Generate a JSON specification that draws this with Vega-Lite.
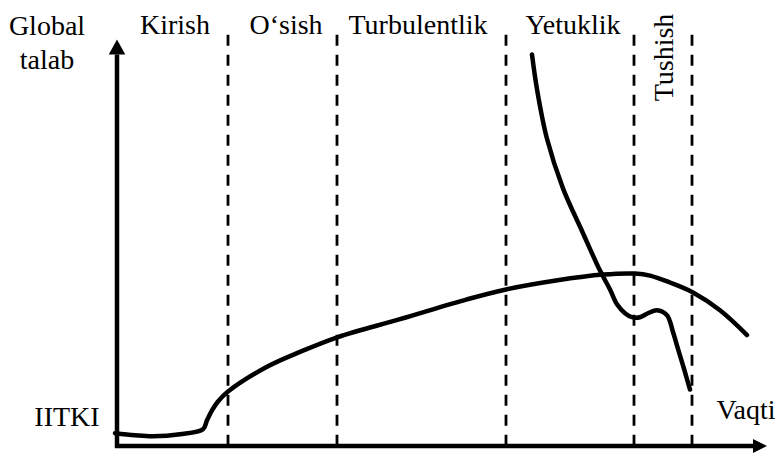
{
  "$schema": "https://vega.github.io/schema/vega-lite/v6.json",
  "width": 782,
  "height": 457,
  "autosize": {"type": "fit", "contains": "padding"},
  "padding": 0,
  "background": "white",
  "config": {"view": {"stroke": null}},
  "datasets": {
    "curves": [
      {"series": "talab", "t": 115, "v": 20},
      {"series": "talab", "t": 135, "v": 18},
      {"series": "talab", "t": 153, "v": 17},
      {"series": "talab", "t": 180, "v": 19},
      {"series": "talab", "t": 203, "v": 24},
      {"series": "talab", "t": 207, "v": 33},
      {"series": "talab", "t": 212, "v": 43},
      {"series": "talab", "t": 218, "v": 52},
      {"series": "talab", "t": 228, "v": 62},
      {"series": "talab", "t": 267, "v": 87},
      {"series": "talab", "t": 300, "v": 102},
      {"series": "talab", "t": 338, "v": 117},
      {"series": "talab", "t": 400, "v": 135},
      {"series": "talab", "t": 467, "v": 155},
      {"series": "talab", "t": 506, "v": 165},
      {"series": "talab", "t": 556, "v": 174},
      {"series": "talab", "t": 603, "v": 180},
      {"series": "talab", "t": 635, "v": 181},
      {"series": "talab", "t": 650, "v": 179},
      {"series": "talab", "t": 670, "v": 172},
      {"series": "talab", "t": 693, "v": 162},
      {"series": "talab", "t": 720, "v": 144},
      {"series": "talab", "t": 747, "v": 119},
      {"series": "yetuklik", "t": 532, "v": 402},
      {"series": "yetuklik", "t": 537, "v": 367},
      {"series": "yetuklik", "t": 547, "v": 317},
      {"series": "yetuklik", "t": 563, "v": 267},
      {"series": "yetuklik", "t": 582, "v": 224},
      {"series": "yetuklik", "t": 600, "v": 184},
      {"series": "yetuklik", "t": 610, "v": 165},
      {"series": "yetuklik", "t": 617, "v": 150},
      {"series": "yetuklik", "t": 625, "v": 141},
      {"series": "yetuklik", "t": 632, "v": 137},
      {"series": "yetuklik", "t": 640, "v": 137},
      {"series": "yetuklik", "t": 648, "v": 141},
      {"series": "yetuklik", "t": 657, "v": 144},
      {"series": "yetuklik", "t": 667, "v": 139},
      {"series": "yetuklik", "t": 673, "v": 122},
      {"series": "yetuklik", "t": 678, "v": 105},
      {"series": "yetuklik", "t": 684, "v": 85},
      {"series": "yetuklik", "t": 690, "v": 64}
    ],
    "axes": [
      {"axis": "y", "t": 117, "v": 5},
      {"axis": "y", "t": 117, "v": 402},
      {"axis": "x", "t": 115, "v": 7},
      {"axis": "x", "t": 755, "v": 7}
    ],
    "dividers": [
      {"t": 228, "top": 422, "bottom": 7},
      {"t": 337, "top": 422, "bottom": 7},
      {"t": 506, "top": 422, "bottom": 7},
      {"t": 634, "top": 422, "bottom": 7},
      {"t": 692, "top": 422, "bottom": 7}
    ],
    "labels": [
      {"label": "Global", "t": 47, "v": 422},
      {"label": "talab", "t": 47, "v": 387},
      {"label": "Kirish", "t": 175, "v": 423},
      {"label": "O‘sish", "t": 286, "v": 423},
      {"label": "Turbulentlik", "t": 418, "v": 423},
      {"label": "Yetuklik", "t": 573, "v": 423},
      {"label": "IITKI", "t": 67, "v": 27},
      {"label": "Vaqti", "t": 746, "v": 34}
    ],
    "vlabels": [
      {"label": "Tushish", "t": 673, "v": 399}
    ],
    "arrowsUp": [{"t": 117, "v": 409.5}],
    "arrowsRight": [{"t": 760, "v": 7}]
  },
  "layer": [
    {
      "data": {"name": "dividers"},
      "mark": {"type": "rule", "color": "black", "strokeWidth": 2.8, "strokeDash": [11, 9]},
      "encoding": {
        "x": {"field": "t", "type": "quantitative", "scale": {"domain": [0, 782], "nice": false, "zero": false}, "axis": null},
        "y": {"field": "top", "type": "quantitative", "scale": {"domain": [0, 457], "nice": false, "zero": false}, "axis": null},
        "y2": {"field": "bottom"}
      }
    },
    {
      "data": {"name": "axes"},
      "mark": {"type": "line", "color": "black", "strokeWidth": 4.5, "strokeCap": "butt"},
      "encoding": {
        "x": {"field": "t", "type": "quantitative", "scale": {"domain": [0, 782], "nice": false, "zero": false}, "axis": null},
        "y": {"field": "v", "type": "quantitative", "scale": {"domain": [0, 457], "nice": false, "zero": false}, "axis": null},
        "detail": {"field": "axis"},
        "order": {"field": "v"}
      }
    },
    {
      "data": {"name": "curves"},
      "mark": {"type": "line", "color": "black", "strokeWidth": 4.5, "interpolate": "catmull-rom", "strokeCap": "round"},
      "encoding": {
        "x": {"field": "t", "type": "quantitative", "scale": {"domain": [0, 782], "nice": false, "zero": false}, "axis": null},
        "y": {"field": "v", "type": "quantitative", "scale": {"domain": [0, 457], "nice": false, "zero": false}, "axis": null},
        "detail": {"field": "series"}
      }
    },
    {
      "data": {"name": "arrowsUp"},
      "mark": {"type": "point", "filled": true, "color": "black", "opacity": 1, "shape": "M0,-1L1.1,1L-1.1,1Z", "size": 225},
      "encoding": {
        "x": {"field": "t", "type": "quantitative", "scale": {"domain": [0, 782], "nice": false, "zero": false}, "axis": null},
        "y": {"field": "v", "type": "quantitative", "scale": {"domain": [0, 457], "nice": false, "zero": false}, "axis": null}
      }
    },
    {
      "data": {"name": "arrowsRight"},
      "mark": {"type": "point", "filled": true, "color": "black", "opacity": 1, "shape": "M1,0L-1,-1L-1,1Z", "size": 196},
      "encoding": {
        "x": {"field": "t", "type": "quantitative", "scale": {"domain": [0, 782], "nice": false, "zero": false}, "axis": null},
        "y": {"field": "v", "type": "quantitative", "scale": {"domain": [0, 457], "nice": false, "zero": false}, "axis": null}
      }
    },
    {
      "data": {"name": "labels"},
      "mark": {"type": "text", "font": "Liberation Serif", "fontSize": 28, "color": "black", "align": "center", "baseline": "alphabetic"},
      "encoding": {
        "x": {"field": "t", "type": "quantitative", "scale": {"domain": [0, 782], "nice": false, "zero": false}, "axis": null},
        "y": {"field": "v", "type": "quantitative", "scale": {"domain": [0, 457], "nice": false, "zero": false}, "axis": null},
        "text": {"field": "label"}
      }
    },
    {
      "data": {"name": "vlabels"},
      "mark": {"type": "text", "font": "Liberation Serif", "fontSize": 28, "color": "black", "align": "center", "baseline": "alphabetic", "angle": -90},
      "encoding": {
        "x": {"field": "t", "type": "quantitative", "scale": {"domain": [0, 782], "nice": false, "zero": false}, "axis": null},
        "y": {"field": "v", "type": "quantitative", "scale": {"domain": [0, 457], "nice": false, "zero": false}, "axis": null},
        "text": {"field": "label"}
      }
    }
  ]
}
